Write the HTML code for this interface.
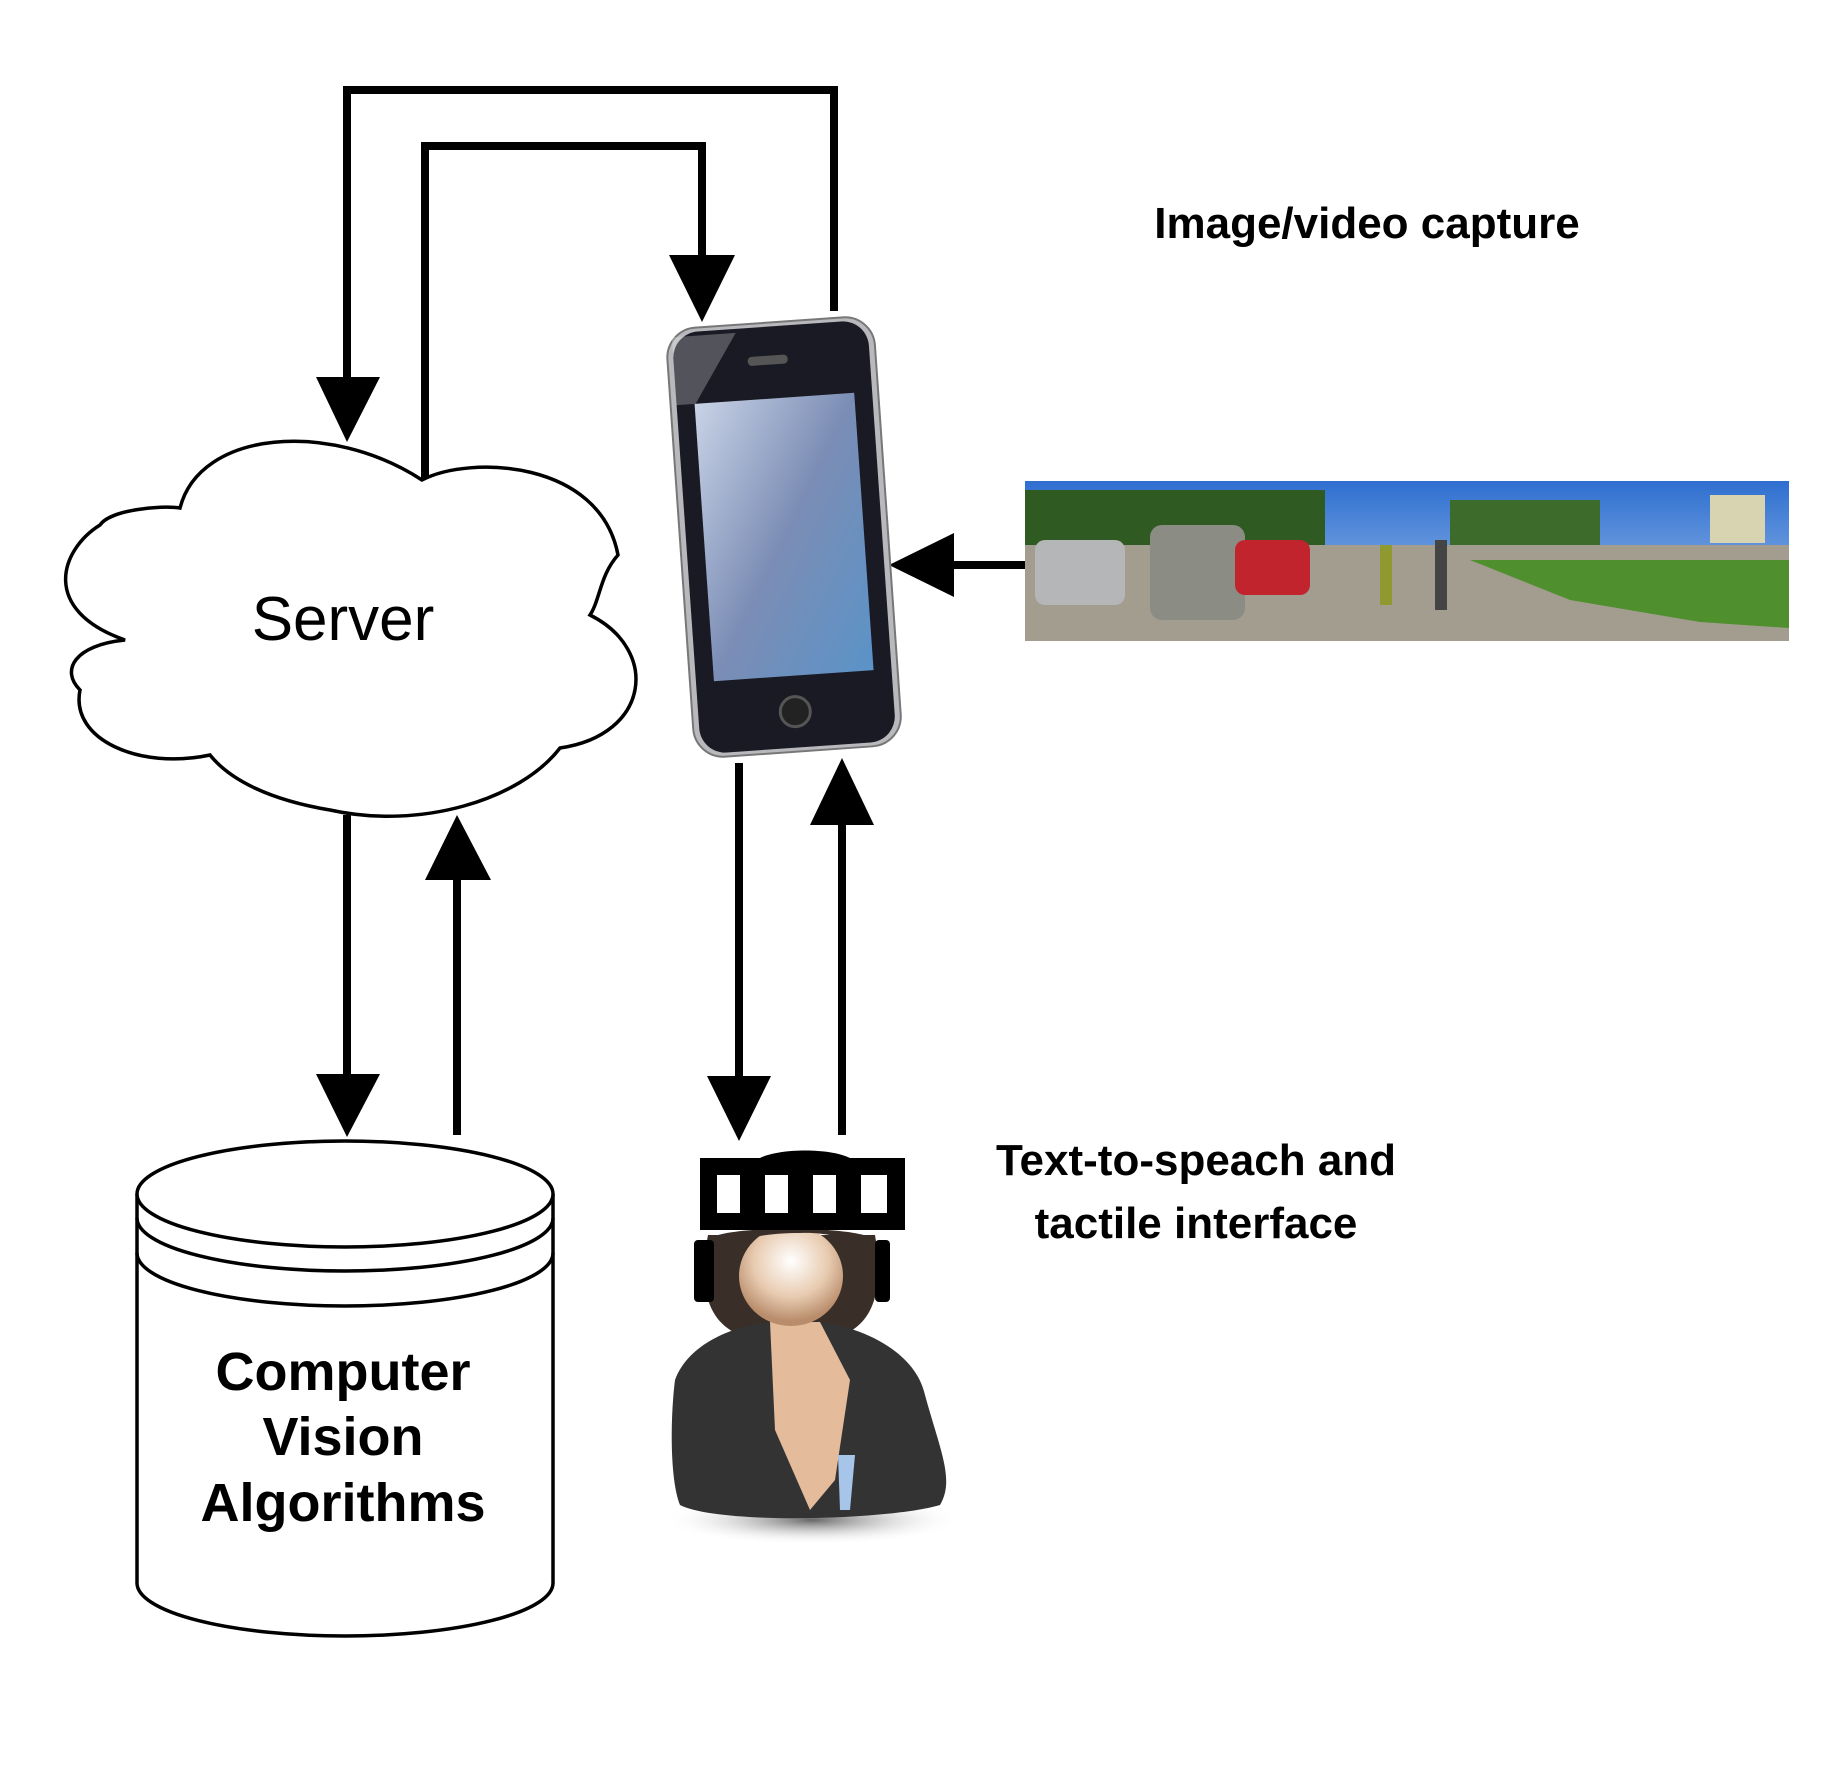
<!DOCTYPE html>
<html><head><meta charset="utf-8"><style>
html,body{margin:0;padding:0;background:#fff;}
svg{display:block;}
</style></head><body>
<svg width="1833" height="1772" viewBox="0 0 1833 1772" xmlns="http://www.w3.org/2000/svg">
<defs>
<linearGradient id="scr" x1="0" y1="0" x2="1" y2="1"><stop offset="0" stop-color="#c9d3e6"/><stop offset="0.5" stop-color="#7b8db5"/><stop offset="1" stop-color="#5a93c8"/></linearGradient>
<linearGradient id="sky" x1="0" y1="0" x2="0" y2="1"><stop offset="0" stop-color="#2f6fd0"/><stop offset="1" stop-color="#a9c8ee"/></linearGradient>
<radialGradient id="face" cx="0.5" cy="0.35" r="0.6"><stop offset="0" stop-color="#fff"/><stop offset="0.6" stop-color="#e8cbb0"/><stop offset="1" stop-color="#b98d6c"/></radialGradient>
<radialGradient id="shad" cx="0.5" cy="0.5" r="0.5"><stop offset="0" stop-color="#666"/><stop offset="1" stop-color="#fff" stop-opacity="0"/></radialGradient>
</defs>
<g fill="none" stroke="#000" stroke-width="8">
<polyline points="834,311 834,90 347,90 347,385"/>
<polyline points="425,480 425,146 702,146 702,262"/>
<line x1="347" y1="815" x2="347" y2="1080"/>
<line x1="457" y1="1135" x2="457" y2="870"/>
<line x1="739" y1="763" x2="739" y2="1080"/>
<line x1="842" y1="1135" x2="842" y2="818"/>
<line x1="1026" y1="565" x2="945" y2="565"/>
</g>
<g fill="#000">
<polygon points="316,377 380,377 347,442"/>
<polygon points="669,255 735,255 702,322"/>
<polygon points="316,1074 380,1074 347,1137"/>
<polygon points="425,880 491,880 457,815"/>
<polygon points="707,1076 771,1076 739,1141"/>
<polygon points="810,825 874,825 842,758"/>
<polygon points="954,533 954,597 889,565"/>
</g>
<path d="M 180,508 C 200,430 330,420 422,480 C 470,455 600,460 618,555 C 600,575 600,600 590,615 C 660,650 650,735 560,748 C 520,800 420,830 330,810 C 270,800 230,780 210,755 C 140,770 70,740 80,690 C 60,670 75,645 125,640 C 40,610 60,550 100,525 C 110,510 160,505 180,508 Z" fill="#fff" stroke="#000" stroke-width="3.5"/>
<text x="343" y="640" font-family="Liberation Sans, sans-serif" font-size="62" text-anchor="middle">Server</text>
<path d="M137,1194 L137,1583 A208,53 0 0 0 553,1583 L553,1194" fill="#fff" stroke="#000" stroke-width="3.5"/>
<ellipse cx="345" cy="1194" rx="208" ry="53" fill="#fff" stroke="#000" stroke-width="3.5"/>
<path d="M137,1218 A208,53 0 0 0 553,1218 M137,1253 A208,53 0 0 0 553,1253" fill="none" stroke="#000" stroke-width="3.5"/>
<g font-family="Liberation Sans, sans-serif" font-size="54" font-weight="bold" text-anchor="middle">
<text x="343" y="1390">Computer</text>
<text x="343" y="1455">Vision</text>
<text x="343" y="1521">Algorithms</text>
</g>
<g transform="rotate(-4 784 536)">
<rect x="680" y="322" width="208" height="430" rx="30" fill="#b9b9bd" stroke="#777" stroke-width="2"/>
<rect x="686" y="326" width="196" height="422" rx="26" fill="#1a1a24"/>
<rect x="704" y="398" width="160" height="278" fill="url(#scr)"/>
<rect x="760" y="355" width="40" height="9" rx="4" fill="#555"/>
<circle cx="783" cy="712" r="15" fill="#222" stroke="#555" stroke-width="3"/>
<polygon points="686,330 750,330 705,398 686,398" fill="#fff" opacity="0.25"/>
</g>
<g>
<rect x="1025" y="481" width="764" height="160" fill="url(#sky)"/>
<rect x="1025" y="490" width="300" height="60" fill="#2f5a22"/>
<rect x="1450" y="500" width="150" height="45" fill="#3d6b2c"/>
<rect x="1710" y="495" width="55" height="48" fill="#d8d3b0"/>
<rect x="1025" y="545" width="764" height="96" fill="#a39d90"/>
<polygon points="1470,560 1789,560 1789,628 1700,622 1570,600" fill="#4f8f2e"/>
<rect x="1035" y="540" width="90" height="65" rx="10" fill="#b4b6b8"/>
<rect x="1150" y="525" width="95" height="95" rx="12" fill="#8b8d84"/>
<rect x="1235" y="540" width="75" height="55" rx="10" fill="#c2242e"/>
<rect x="1380" y="545" width="12" height="60" fill="#8e9a30"/>
<rect x="1435" y="540" width="12" height="70" fill="#444"/>
</g>
<ellipse cx="812" cy="1520" rx="150" ry="25" fill="url(#shad)"/>
<path d="M708,1235 C690,1330 740,1345 792,1340 C850,1345 890,1325 875,1235 Z" fill="#3a2e28"/>
<path d="M675,1380 C690,1340 740,1325 770,1322 L820,1322 C860,1327 915,1350 925,1395 C940,1450 955,1480 940,1505 C890,1520 720,1525 680,1505 C670,1480 670,1420 675,1380 Z" fill="#333334"/>
<polygon points="770,1322 820,1322 850,1380 835,1480 810,1510 775,1430" fill="#e4bc9c"/>
<polygon points="838,1455 855,1455 850,1510 840,1510" fill="#a7c5e8"/>
<ellipse cx="791" cy="1276" rx="52" ry="50" fill="url(#face)"/>
<path d="M708,1240 C720,1225 860,1225 875,1240 L875,1252 C850,1236 820,1232 800,1233 C760,1233 730,1240 708,1258 Z" fill="#3a2e28"/>
<rect x="694" y="1240" width="20" height="62" rx="4" fill="#000"/>
<rect x="875" y="1240" width="15" height="62" rx="4" fill="#000"/>
<path d="M700,1158 L760,1158 C780,1148 830,1148 850,1158 L905,1158 L905,1230 L700,1230 Z" fill="#000"/>
<g fill="#fff"><rect x="717" y="1175" width="23" height="38"/><rect x="765" y="1175" width="23" height="38"/><rect x="813" y="1175" width="23" height="38"/><rect x="861" y="1175" width="26" height="38"/></g>
<g font-family="Liberation Sans, sans-serif" font-size="44" font-weight="bold" text-anchor="middle">
<text x="1367" y="238">Image/video capture</text>
<text x="1196" y="1175">Text-to-speach and</text>
<text x="1196" y="1238">tactile interface</text>
</g>
</svg>
</body></html>
